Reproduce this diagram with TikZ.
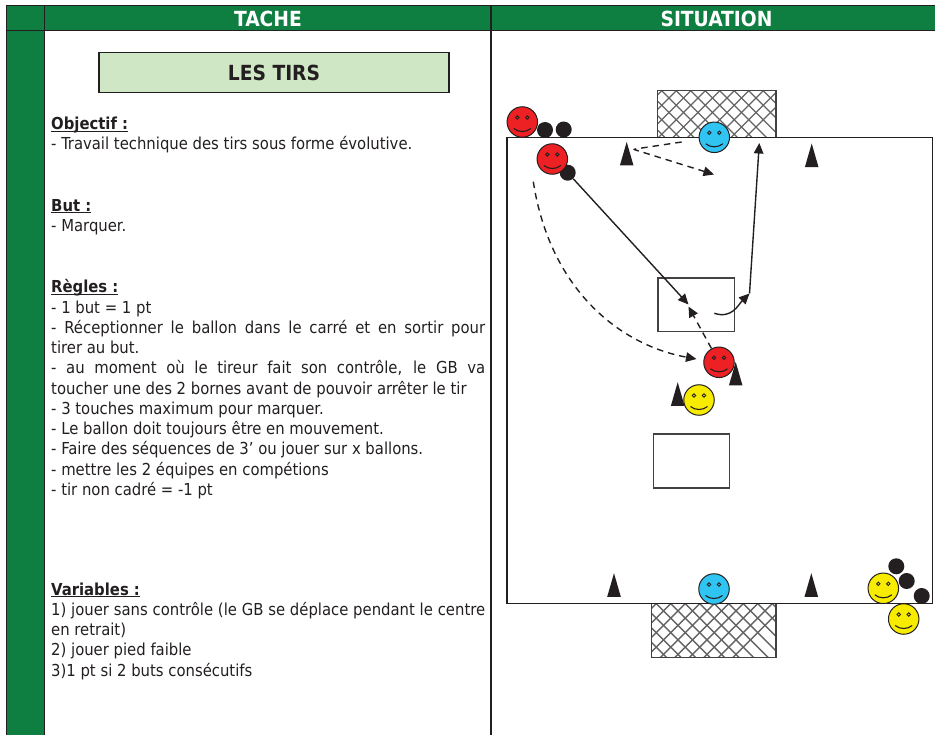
\documentclass[tikz,border=0pt]{standalone}
\usepackage{fontspec}
\setmainfont{DejaVu Sans Condensed}
\usetikzlibrary{
  arrows.meta,
  calc
}
\definecolor{ink}{HTML}{231F20}
\definecolor{sheetgreen}{HTML}{0F7F41}
\definecolor{palegreen}{HTML}{CFE7C5}
\definecolor{teamred}{HTML}{ED2024}
\definecolor{teamblue}{HTML}{2FC4F2}
\definecolor{teamyellow}{HTML}{F7EC00}
\newsavebox{\HeadBox}
\newcommand*{\Heading}[1]{\sbox{\HeadBox}{\textbf{#1}}\usebox{\HeadBox}\llap{\rule[-2.2pt]{\wd\HeadBox}{1.1pt}}}
\tikzset{
  % For the table frame.
  rule/.style={
    draw=ink,
    line width=1.2pt},
%
  % For the white words of the header row.
  header/.style={
    text=white,
    font=\fontsize{20.8}{21}\selectfont\bfseries},
%
  % For the blocks of text.
  body/.style={
    anchor=north west,
    inner sep=0pt,
    text=ink,
    text width=434pt,
    align=justify,
    font=\fontsize{16.5}{20.25}\selectfont},
%
  % For the hatched goals.
  goal/.style={
    draw=ink!85,
    line width=1.2pt,
    inner sep=0pt,
    path picture={
      \foreach \d in {-68,-53.5,...,140}
        {\draw[ink!70, line width=1.3pt]
           ($(path picture bounding box.north west)+(\d,0)$) -- +(70,70);
         \draw[ink!70, line width=1.3pt]
           ($(path picture bounding box.north west)+(\d,0)$) -- +(-70,70);}}},
%
  % For fat dots.
  ball/.style={
    circle,
    fill=ink,
    inner sep=0pt,
    minimum size=16pt},
%
  % For faces.
  disc/.style={
    circle,
    draw=ink,
    line width=1pt,
    inner sep=0pt,
    minimum size=30.5pt},
%
  % For the two small squares of the pitch.
  zone/.style={
    draw=ink!85,
    line width=1.2pt,
    inner sep=0pt},
%
  % For main curves.
  line/.style={
    draw=ink,
    line width=1.4pt},
%
  % For curves with one arrow.
  direction/.style={
    line,
    -{Triangle[length=10.5pt,width=9.5pt]}},
%
  % For curves with one arrow, dashed.
  dashed direction/.style={
    direction,
    dash pattern=on 6.5pt off 5pt},
%
  face/.pic={
    \node[disc, fill=#1] (-disc) at (0,0) {};
    \foreach \s in {-1,1}
      {\draw[ink, line width=.9pt] (\s*5,-4.5) circle (1.7);}
    \draw[ink, line width=1.1pt] (-8.5,6.5) .. controls (-4,10.5) and (4,10.5) .. (8.5,6.5);},
%
  cone/.pic={
    \fill[ink] (-6.8,11.8) -- (0,-11.8) -- (6.8,11.8) -- cycle;}
}

\begin{document}
\begin{tikzpicture}[x=1pt,y=-1pt]
  \useasboundingbox (0,0) rectangle (935,735);

  % Table frame.
  \fill[sheetgreen] (6.7,5.5) rectangle (44.5,735);
  \fill[sheetgreen] (44.5,5.5) rectangle (935,30.3);
  \draw[rule] (935,5.5) -- (6.7,5.5) -- (6.7,735);
  \draw[rule] (6.7,30.3) -- (935,30.3);
  \draw[rule] (44.5,5.5) -- (44.5,735);
  \draw[rule] (491,5.5) -- (491,735);
  \node[header] (tache) at (268,18.5) {TACHE};
  \node[header] (situation) at (716.5,18.5) {SITUATION};

  \node[draw=ink, line width=1.1pt, fill=palegreen, text=ink, inner sep=0pt,
        minimum width=350pt, minimum height=40pt,
        font=\fontsize{20.8}{21}\selectfont\bfseries] (title) at (274,72.5) {LES TIRS};

  % Text blocks.
  \node[body] (objectif) at (51,117)
    {\Heading{Objectif :}\par
     - Travail technique des tirs sous forme évolutive.};
  \node[body] (but) at (51,199)
    {\Heading{But :}\par
     - Marquer.};
  \node[body] (regles) at (51,279.5)
    {\Heading{Règles :}\par
     - 1 but = 1 pt\par
     - Réceptionner le ballon dans le carré et en sortir pour\linebreak tirer au but.\par
     - au moment où le tireur fait son contrôle, le GB va\linebreak toucher une des 2 bornes avant de pouvoir arrêter le tir\par
     - 3 touches maximum pour marquer.\par
     - Le ballon doit toujours être en mouvement.\par
     - Faire des séquences de 3’ ou jouer sur x ballons.\par
     - mettre les 2 équipes en compétions\par
     - tir non cadré = -1 pt};
  \node[body] (variables) at (51,582.5)
    {\Heading{Variables :}\par
     1) jouer sans contrôle (le GB se déplace pendant le centre en retrait)\par
     2) jouer pied faible\par
     3)1 pt si 2 buts consécutifs};

  % Goals and pitch.
  \node[goal, minimum width=118.7pt, minimum height=46.6pt] (goalTop) at (716.6,114) {};
  \node[goal, minimum width=124.3pt, minimum height=53.7pt] (goalBottom) at (713.9,630.5) {};
  \draw[line] (507,137.3) rectangle (932.3,603.7);
  \node[zone, minimum width=76.3pt, minimum height=53.7pt] (zoneTop) at (696.2,304.9) {};
  \node[zone, minimum width=76pt, minimum height=54pt] (zoneBottom) at (691.5,461) {};

  % Cones.
  \foreach \x/\y in {626.7/153.7, 811.7/155.3, 735.7/373.7, 677.7/394, 614/585, 811.3/585}
    {\pic at (\x,\y) {cone};}

  % Balls.
  \foreach \n/\x/\y in {ballA/545/130, ballB/563.7/129.5, ballC/567.7/172.7,
                        ballD/896.3/566.3, ballE/906.7/581, ballF/921.7/596}
    {\node[ball] (\n) at (\x,\y) {};}

  % Players.
  \foreach \n/\x/\y/\c in {redA/522.3/122/teamred, redB/552.3/159/teamred,
                           redC/719/362.3/teamred, yellowA/699/400/teamyellow,
                           yellowB/883.3/588.3/teamyellow, yellowC/903.7/619/teamyellow,
                           blueA/714.3/137.3/teamblue, blueB/714/589/teamblue}
    {\pic (\n) at (\x,\y) {face=\c};}

  % Runs and passes.
  \coordinate (shotEnd) at (688.5,304.5);
  \coordinate (passEnd) at (688.5,306.5);
  \coordinate (turnStart) at (714.3,313.3);
  \coordinate (turnEnd) at (749.5,293.5);
  \coordinate (finish) at (759.3,143);
  \coordinate (runStart) at (533.3,181.7);
  \coordinate (runEnd) at (696.5,359);
  \coordinate (keeperStart) at (681.7,142);
  \coordinate (keeperPost) at (633.3,149.3);
  \coordinate (keeperEnd) at (714,174.5);

  \draw[direction] (ballC) -- (shotEnd);
  \draw[dashed direction] (redC-disc) -- (passEnd);
  \draw[direction] (turnStart) .. controls (732,319) and (738,305) .. (turnEnd);
  \draw[direction] (turnEnd) -- (finish);
  \draw[dashed direction] (runStart) .. controls (550,290) and (620,345) .. (runEnd);
  \draw[dashed direction, rounded corners=2pt] (keeperStart) -- (keeperPost) -- (keeperEnd);
\end{tikzpicture}
\end{document}
